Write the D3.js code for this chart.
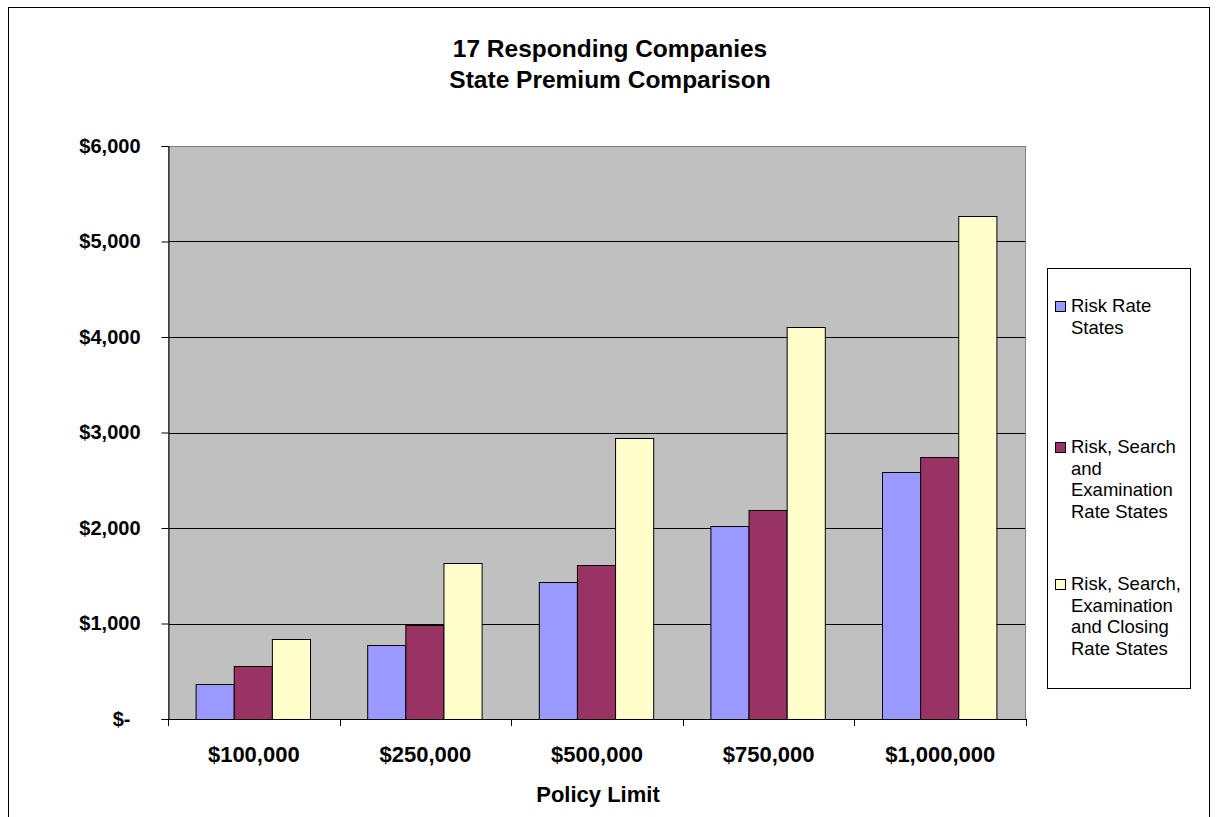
<!DOCTYPE html>
<html>
<head>
<meta charset="utf-8">
<script src="https://cdn.jsdelivr.net/npm/d3@7"></script>
<style>
  html, body { margin: 0; padding: 0; background: #fff; }
  svg { display: block; font-family: "Liberation Sans", Arial, sans-serif; }
</style>
</head>
<body>
<svg id="chart" width="1218" height="817"></svg>
<script>
// Policy limits along the x axis
const categories = ["$100,000", "$250,000", "$500,000", "$750,000", "$1,000,000"];

// Series names (legend text, one line per entry)
const seriesNames = [
  ["Risk Rate", "States"],
  ["Risk, Search", "and", "Examination", "Rate States"],
  ["Risk, Search,", "Examination", "and Closing", "Rate States"]
];
const seriesColors = ["#9999FF", "#993366", "#FFFFCC"];

// Average premium per policy limit, one array per series
const riskRate = [363, 775, 1435, 2017, 2589];
const riskSearchExam = [552, 981, 1616, 2188, 2748];
const riskSearchExamClosing = [838, 1634, 2942, 4100, 5270];
const series = [riskRate, riskSearchExam, riskSearchExamClosing];

// Value axis ticks
const yTicks = [0, 1000, 2000, 3000, 4000, 5000, 6000];

const svg = d3.select("#chart");

// Outer chart border
svg.append("rect")
  .attr("x", 8.5).attr("y", 7.5)
  .attr("width", 1201).attr("height", 840)
  .attr("fill", "#fff").attr("stroke", "#000").attr("stroke-width", 1);

// Title
const title = svg.append("text")
  .attr("text-anchor", "middle")
  .attr("font-size", 24.5).attr("font-weight", "bold").attr("fill", "#000");
title.append("tspan").attr("x", 610).attr("y", 57).text("17 Responding Companies");
title.append("tspan").attr("x", 610).attr("y", 88).text("State Premium Comparison");

// Plot area
const plot = { left: 168, right: 1026, top: 146, bottom: 719 };

const x = d3.scaleBand()
  .domain(categories)
  .range([plot.left, plot.right])
  .paddingInner(1 / 3)
  .paddingOuter(1 / 6);

const xs = d3.scaleBand()
  .domain(d3.range(series.length))
  .range([0, x.bandwidth()])
  .padding(0);

const y = d3.scaleLinear()
  .domain([0, 6000])
  .range([plot.bottom, plot.top]);

svg.append("rect")
  .attr("x", plot.left).attr("y", plot.top)
  .attr("width", plot.right - plot.left).attr("height", plot.bottom - plot.top)
  .attr("fill", "#C0C0C0");

// Gridlines
svg.append("g")
  .selectAll("line")
  .data(yTicks.filter(d => d > 0))
  .join("line")
  .attr("x1", plot.left).attr("x2", plot.right)
  .attr("y1", d => Math.round(y(d)) + 0.5).attr("y2", d => Math.round(y(d)) + 0.5)
  .attr("stroke", "#000").attr("stroke-width", 1);

// Plot area border
svg.append("rect")
  .attr("x", plot.left + 0.5).attr("y", plot.top + 0.5)
  .attr("width", plot.right - plot.left - 1).attr("height", plot.bottom - plot.top)
  .attr("fill", "none").attr("stroke", "#808080").attr("stroke-width", 1);

// Bars
const groups = svg.append("g")
  .selectAll("g")
  .data(categories)
  .join("g")
  .attr("transform", d => `translate(${x(d) - 1},0)`);

groups.selectAll("rect")
  .data((d, i) => series.map((s, k) => ({ k, v: s[i] })))
  .join("rect")
  .attr("x", d => xs(d.k) + 0.5)
  .attr("y", d => Math.round(y(d.v)) + 0.5)
  .attr("width", xs.bandwidth())
  .attr("height", d => plot.bottom - Math.round(y(d.v)))
  .attr("fill", d => seriesColors[d.k])
  .attr("stroke", "#000").attr("stroke-width", 1);

// Y axis
const yAxis = d3.axisLeft(y)
  .tickValues(yTicks)
  .tickSize(7)
  .tickPadding(21)
  .tickFormat(d => d === 0 ? "$-" : "$" + d3.format(",")(d));

const gy = svg.append("g")
  .attr("transform", `translate(${plot.left + 0.5},0)`)
  .call(yAxis);
gy.select(".domain").attr("stroke", "#000");
gy.selectAll(".tick line").attr("stroke", "#000");
gy.selectAll(".tick text")
  .attr("font-size", 20).attr("font-weight", "bold").attr("fill", "#000")
  .attr("font-family", "Liberation Sans, Arial, sans-serif")
  .attr("dx", d => d === 0 ? -10 : 0);

// X axis line and boundary ticks
svg.append("line")
  .attr("x1", plot.left).attr("x2", plot.right)
  .attr("y1", plot.bottom + 0.5).attr("y2", plot.bottom + 0.5)
  .attr("stroke", "#000");

const boundaries = categories.map(c => x(c) - x.step() * x.paddingInner() / 2)
  .concat([plot.right]);
svg.append("g")
  .selectAll("line")
  .data(boundaries)
  .join("line")
  .attr("x1", d => Math.round(d) + 0.5).attr("x2", d => Math.round(d) + 0.5)
  .attr("y1", plot.bottom).attr("y2", plot.bottom + 7)
  .attr("stroke", "#000");

svg.append("g")
  .selectAll("text")
  .data(categories)
  .join("text")
  .attr("x", d => x(d) + x.bandwidth() / 2)
  .attr("y", 762)
  .attr("text-anchor", "middle")
  .attr("font-size", 22).attr("font-weight", "bold").attr("fill", "#000")
  .text(d => d);

// X axis title
svg.append("text")
  .attr("x", 598).attr("y", 802)
  .attr("text-anchor", "middle")
  .attr("font-size", 22).attr("font-weight", "bold").attr("fill", "#000")
  .text("Policy Limit");

// Legend
const legend = { left: 1047, top: 268, width: 143, height: 420 };
svg.append("rect")
  .attr("x", legend.left + 0.5).attr("y", legend.top + 0.5)
  .attr("width", legend.width).attr("height", legend.height)
  .attr("fill", "#fff").attr("stroke", "#000");

const itemBaselines = [312, 453, 590];
const lineHeight = 21.5;
const items = svg.append("g")
  .selectAll("g")
  .data(seriesNames)
  .join("g")
  .attr("transform", (d, i) => `translate(0,${itemBaselines[i]})`);

items.append("rect")
  .attr("x", 1055.5).attr("y", -10.5)
  .attr("width", 10).attr("height", 10)
  .attr("fill", (d, i) => seriesColors[i])
  .attr("stroke", "#000");

items.append("text")
  .attr("font-size", 18.5).attr("fill", "#000")
  .selectAll("tspan")
  .data(d => d)
  .join("tspan")
  .attr("x", 1071)
  .attr("y", (d, j) => j * lineHeight)
  .text(d => d);
</script>
</body>
</html>
